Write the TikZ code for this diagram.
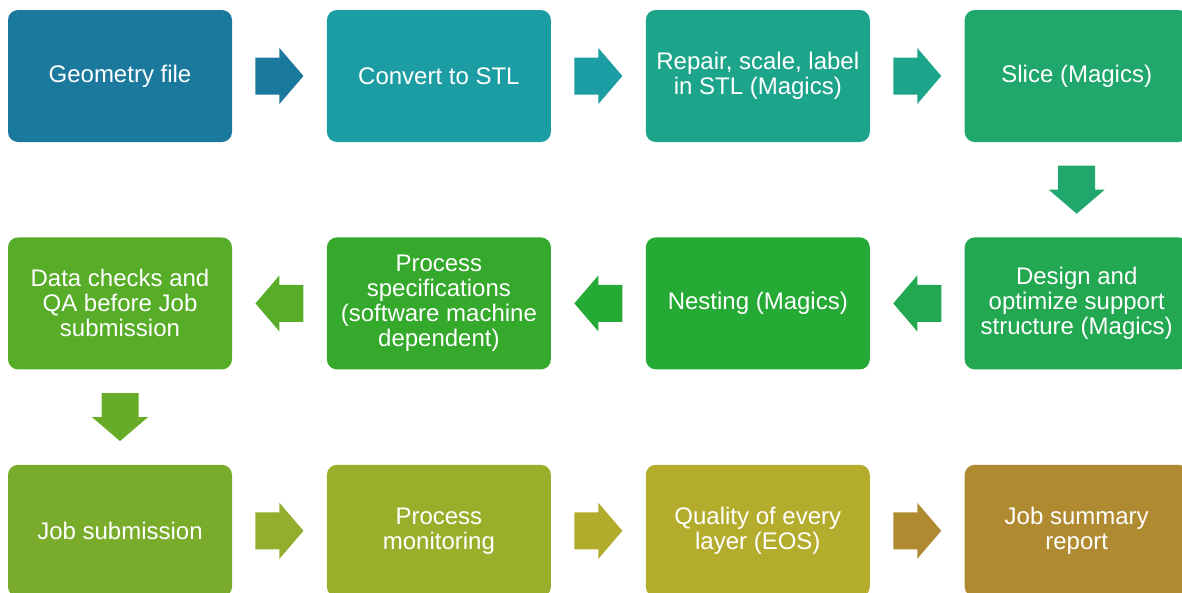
\documentclass[tikz,border=0pt]{standalone}
\usepackage{fontspec}
\setmainfont{Liberation Sans}
\usetikzlibrary{positioning,calc}

\definecolor{cGeom}{HTML}{1B799D}
\definecolor{cStl}{HTML}{1C9DA3}
\definecolor{cRepair}{HTML}{1DA58C}
\definecolor{cSlice}{HTML}{20A86C}
\definecolor{cSupport}{HTML}{22A850}
\definecolor{cNest}{HTML}{25AA36}
\definecolor{cSpec}{HTML}{34A92C}
\definecolor{cChecks}{HTML}{57AC28}
\definecolor{cJob}{HTML}{78AC2A}
\definecolor{cMonitor}{HTML}{9AAE2C}
\definecolor{cQuality}{HTML}{B3AC2C}
\definecolor{cReport}{HTML}{B08A31}

\begin{document}
\begin{tikzpicture}[
    x=1pt, y=1pt,
    node distance=95pt and 94.5pt,
    every node/.style={font=\fontsize{24}{25}\selectfont},
    stage/.style={rounded corners=10pt, align=center, minimum width=224pt, minimum height=132pt, inner sep=0pt, text=white},
    blockarrow/.pic={\fill (-24,-18.5) -- (0,-18.5) -- (0,-28) -- (24,0) -- (0,28) -- (0,18.5) -- (-24,18.5) -- cycle;}
]
\useasboundingbox (0,0) rectangle (1182,-592);
% first row, left to right
\node[stage, fill=cGeom] (geom) at (120,-76) {Geometry file};
\node[stage, fill=cStl, right=of geom] (stl) {Convert to STL};
\node[stage, fill=cRepair, right=of stl] (repair) {Repair, scale, label\\in STL (Magics)};
\node[stage, fill=cSlice, right=of repair] (slice) {Slice (Magics)};
% second row, right to left
\node[stage, fill=cSupport, below=of slice] (support) {Design and\\optimize support\\structure (Magics)};
\node[stage, fill=cNest, left=of support] (nest) {Nesting (Magics)};
\node[stage, fill=cSpec, left=of nest] (spec) {Process\\specifications\\(software machine\\dependent)};
\node[stage, fill=cChecks, left=of spec] (checks) {Data checks and\\QA before Job\\submission};
% third row
\node[stage, fill=cJob, below=of checks] (job) {Job submission};
\node[stage, fill=cMonitor, right=of job] (monitor) {Process\\monitoring};
\node[stage, fill=cQuality, right=of monitor] (quality) {Quality of every\\layer (EOS)};
\node[stage, fill=cReport, right=of quality] (report) {Job summary\\report};

\pic[color=cGeom] at ($(geom)!0.5!(stl)$) {blockarrow};
\pic[color=cStl] at ($(stl)!0.5!(repair)$) {blockarrow};
\pic[color=cRepair] at ($(repair)!0.5!(slice)$) {blockarrow};
\pic[color=cSlice, rotate=-90] at ($(slice)!0.5!(support)$) {blockarrow};
\pic[color=cSupport, rotate=180] at ($(support)!0.5!(nest)$) {blockarrow};
\pic[color=cNest, rotate=180] at ($(nest)!0.5!(spec)$) {blockarrow};
\pic[color=cChecks, rotate=180] at ($(spec)!0.5!(checks)$) {blockarrow};
\pic[color=cChecks!50!cJob, rotate=-90] at ($(checks)!0.5!(job)$) {blockarrow};
\pic[color=cJob!20!cMonitor] at ($(job)!0.5!(monitor)$) {blockarrow};
\pic[color=cMonitor!10!cQuality] at ($(monitor)!0.5!(quality)$) {blockarrow};
\pic[color=cReport] at ($(quality)!0.5!(report)$) {blockarrow};
\end{tikzpicture}
\end{document}
